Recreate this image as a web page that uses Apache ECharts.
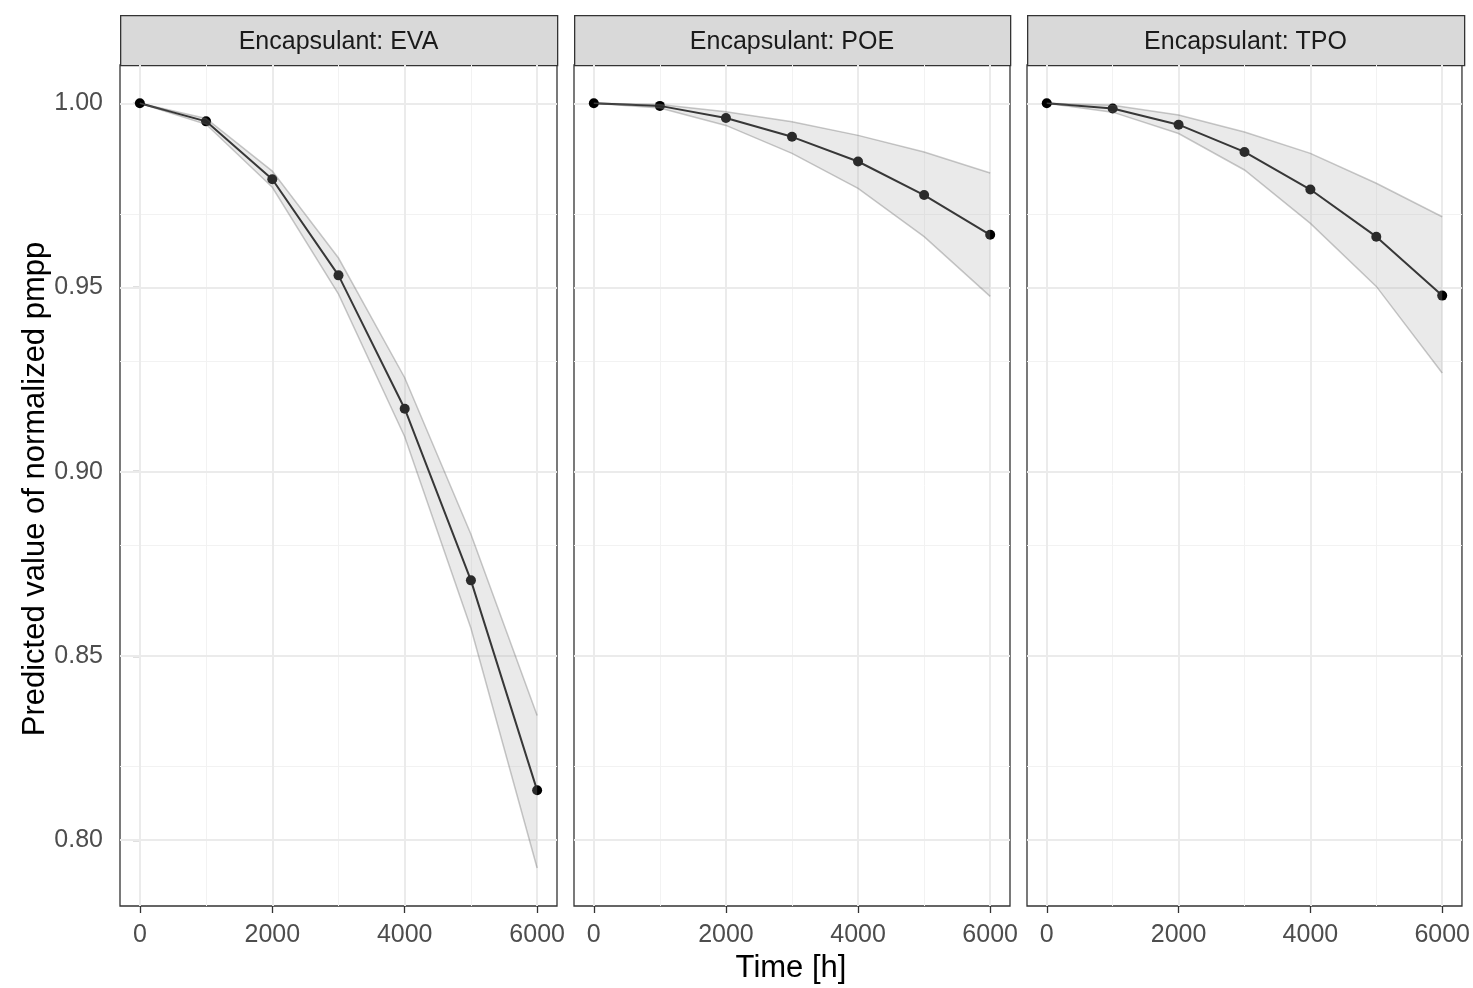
<!DOCTYPE html>
<html>
<head>
<meta charset="utf-8">
<script src="https://cdn.jsdelivr.net/npm/echarts@6/dist/echarts.min.js"></script>
<style>
html, body { margin: 0; padding: 0; background: #fff; }
#main { width: 1473px; height: 988px; }
</style>
</head>
<body>
<div id="main"></div>
<script>
// values
var times = [0, 1000, 2000, 3000, 4000, 5000, 6000];
var panels = ['Encapsulant: EVA', 'Encapsulant: POE', 'Encapsulant: TPO'];

var evaFit = [1.000, 0.9951, 0.9794, 0.9533, 0.9171, 0.8705, 0.8135];
var evaLower = [1.000, 0.9943, 0.9772, 0.9482, 0.9095, 0.8575, 0.7924];
var evaUpper = [1.000, 0.9959, 0.9816, 0.9580, 0.9255, 0.8830, 0.8338];

var poeFit = [1.000, 0.9993, 0.9960, 0.9909, 0.9842, 0.9751, 0.9643];
var poeLower = [1.000, 0.9987, 0.9940, 0.9864, 0.9769, 0.9638, 0.9476];
var poeUpper = [1.000, 0.9997, 0.9977, 0.9950, 0.9913, 0.9868, 0.9811];

var tpoFit = [1.000, 0.9986, 0.9942, 0.9868, 0.9766, 0.9638, 0.9478];
var tpoLower = [1.000, 0.9976, 0.9918, 0.9819, 0.9674, 0.9503, 0.9268];
var tpoUpper = [1.000, 0.9995, 0.9968, 0.9922, 0.9864, 0.9783, 0.9692];

var xTicks = [0, 2000, 4000, 6000];
var xMinor = [1000, 3000, 5000];
var yTicks = [0.80, 0.85, 0.90, 0.95, 1.00];
var yMinor = [0.825, 0.875, 0.925, 0.975];

var fits = [evaFit, poeFit, tpoFit];
var lowers = [evaLower, poeLower, tpoLower];
var uppers = [evaUpper, poeUpper, tpoUpper];

var FONT = "'Liberation Sans', Arial, sans-serif";
var panelLeft = [120, 574, 1027];
var panelWidth = [437, 436, 437];
var panelTop = 65, panelHeight = 841;

function pairs(xs, ys) {
	var out = [];
	for (var i = 0; i < xs.length; i++) out.push([xs[i], ys[i]]);
	return out;
}

// band polygon, drawn once per panel from the whole row set
function bandRenderer(lo, hi) {
	return function(params, api) {
		if (params.dataIndex !== 0) return null;
		var top = [], bottom = [];
		for (var i = 0; i < times.length; i++) {
			top.push(api.coord([times[i], hi[i]]));
			bottom.push(api.coord([times[i], lo[i]]));
		}
		var poly = top.concat(bottom.slice().reverse());
		var edge = { stroke: 'rgba(100,100,100,0.35)', lineWidth: 1.5, fill: null };
		return {
			type: 'group',
			children: [
				{ type: 'polygon', shape: { points: poly }, style: { fill: 'rgba(170,170,170,0.25)' } },
				{ type: 'polyline', shape: { points: top }, style: edge },
				{ type: 'polyline', shape: { points: bottom }, style: edge }
			]
		};
	};
}

var grids = [], xAxes = [], yAxes = [], series = [], graphics = [];

for (var p = 0; p < 3; p++) {
	grids.push({
		left: panelLeft[p], top: panelTop, width: panelWidth[p], height: panelHeight,
		show: true, backgroundColor: '#fff', borderColor: '#333333', borderWidth: 1.3
	});
	xAxes.push({
		type: 'value', gridIndex: p, min: -300, max: 6300,
		axisLine: { show: false },
		splitLine: { show: false },
		axisTick: { show: true, customValues: xTicks, length: 7, lineStyle: { color: '#333333', width: 1.3 } },
		axisLabel: {
			show: true, customValues: xTicks, margin: 17, color: '#4D4D4D', fontSize: 25, fontFamily: FONT,
			formatter: function(v) { return String(v); }
		}
	});
	yAxes.push({
		type: 'value', gridIndex: p, min: 0.7821, max: 1.0104,
		axisLine: { show: false },
		splitLine: { show: false },
		axisTick: { show: p == 0, customValues: yTicks, length: 7, lineStyle: { color: '#333333', width: 1.3 } },
		axisLabel: {
			show: p == 0, customValues: yTicks, margin: 17, color: '#4D4D4D', fontSize: 25, fontFamily: FONT,
			formatter: function(v) { return v.toFixed(2); }
		}
	});

	// grid lines (major + minor)
	var ml = [];
	for (var i = 0; i < xMinor.length; i++) ml.push({ xAxis: xMinor[i], lineStyle: { color: '#F2F2F2', width: 1, type: 'solid' } });
	for (var i = 0; i < yMinor.length; i++) ml.push({ yAxis: yMinor[i], lineStyle: { color: '#F2F2F2', width: 1, type: 'solid' } });
	for (var i = 0; i < xTicks.length; i++) ml.push({ xAxis: xTicks[i], lineStyle: { color: '#EBEBEB', width: 2, type: 'solid' } });
	for (var i = 0; i < yTicks.length; i++) ml.push({ yAxis: yTicks[i], lineStyle: { color: '#EBEBEB', width: 2, type: 'solid' } });
	series.push({
		type: 'line', xAxisIndex: p, yAxisIndex: p, z: 1,
		data: [[0, 1]], showSymbol: false, lineStyle: { opacity: 0 },
		silent: true, animation: false,
		markLine: { z: 1, silent: true, symbol: ['none', 'none'], label: { show: false }, animation: false, lineStyle: { type: 'solid' }, data: ml }
	});

	// fitted line with points
	series.push({
		type: 'line', xAxisIndex: p, yAxisIndex: p, z: 5,
		data: pairs(times, fits[p]),
		symbol: 'circle', symbolSize: 10, showSymbol: true,
		itemStyle: { color: '#000', borderColor: '#000', borderWidth: 0, opacity: 1 },
		lineStyle: { color: '#111', width: 2 },
		animation: false
	});

	// confidence band drawn over the line
	var rows = [];
	for (var i = 0; i < times.length; i++) rows.push([times[i], lowers[p][i], uppers[p][i]]);
	series.push({
		type: 'custom', xAxisIndex: p, yAxisIndex: p, z: 6,
		data: rows, encode: { x: 0, y: [1, 2] },
		renderItem: bandRenderer(lowers[p], uppers[p]),
		silent: true, animation: false
	});

	// facet strip
	graphics.push({
		type: 'rect', left: panelLeft[p], top: 15,
		shape: { width: panelWidth[p], height: 50 },
		style: { fill: '#D9D9D9', stroke: '#333333', lineWidth: 1.3 }
	});
	graphics.push({
		type: 'text', x: panelLeft[p] + panelWidth[p] / 2, y: 42,
		style: { text: panels[p], fill: '#1A1A1A', font: '25px ' + FONT, textAlign: 'center', textVerticalAlign: 'middle' }
	});
}

// axis titles
graphics.push({
	type: 'text', x: 791, y: 968,
	style: { text: 'Time [h]', fill: '#000', font: '31px ' + FONT, textAlign: 'center', textVerticalAlign: 'middle' }
});
graphics.push({
	type: 'text', x: 35, y: 489, rotation: Math.PI / 2,
	style: { text: 'Predicted value of normalized pmpp', fill: '#000', font: '31px ' + FONT, textAlign: 'center', textVerticalAlign: 'middle' }
});

var chart = echarts.init(document.getElementById('main'));
chart.setOption({
	animation: false,
	grid: grids,
	xAxis: xAxes,
	yAxis: yAxes,
	series: series,
	graphic: graphics
});
</script>
</body>
</html>
